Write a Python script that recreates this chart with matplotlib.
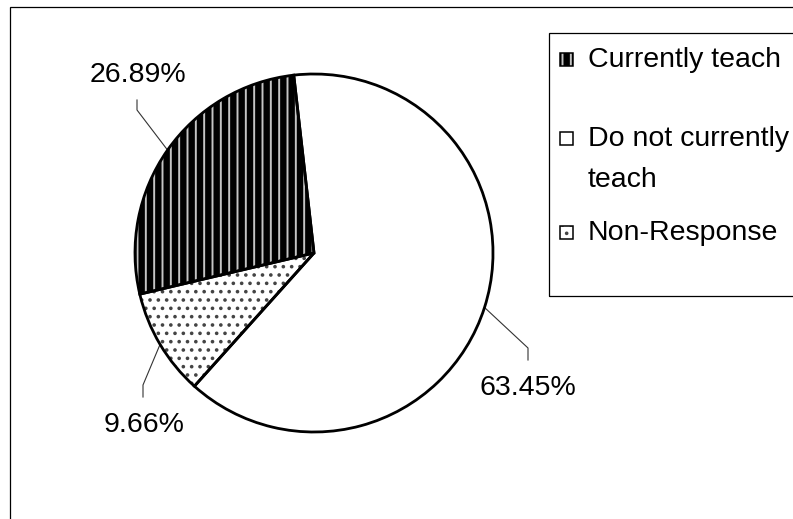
import numpy as np
import matplotlib
matplotlib.use("Agg")
import matplotlib.pyplot as plt
from matplotlib.patches import Wedge, Rectangle

plt.rcParams["font.family"] = ["Liberation Sans", "DejaVu Sans"]
plt.rcParams["hatch.linewidth"] = 1.4

# survey split
labels = ["Currently teach", "Do not currently\nteach", "Non-Response"]
shares = [26.89, 63.45, 9.66]

# fill style per slice: face colour, hatch, hatch colour
fills = ["black", "white", "white"]
hatches = ["||", None, ".."]
hatch_colors = ["#c4c4c4", None, "#444444"]

W, H = 793, 519
FS = 20.5


def py(y):
    # pixel rows are counted from the top
    return H - y


fig = plt.figure(figsize=(W / 100, H / 100), dpi=100)
ax = fig.add_axes([0, 0, 1, 1])

cx, cy, r = 314, py(253), 179
wedges, _ = ax.pie(shares, colors=["none"] * 3, startangle=193.3,
                   counterclock=False, center=(cx, cy), radius=r,
                   wedgeprops=dict(edgecolor="black", linewidth=2.0,
                                   joinstyle="miter", zorder=3))

# fills and hatching go underneath the black outlines
for w, fc, h, hc in zip(wedges, fills, hatches, hatch_colors):
    base = Wedge((cx, cy), r, w.theta1, w.theta2, facecolor=fc,
                 edgecolor=hc if hc else fc, linewidth=0, hatch=h, zorder=1)
    ax.add_patch(base)

# percentage labels with leader lines
elbows = [(137, 110), (528, 348), (143, 385)]
tips = [(137, 100), (528, 360), (143, 397)]
text_pos = [(138, 82), (528, 395), (144, 432)]
for w, v, el, tp, tx in zip(wedges, shares, elbows, tips, text_pos):
    mid = np.deg2rad((w.theta1 + w.theta2) / 2)
    sx, sy = cx + r * np.cos(mid), cy + r * np.sin(mid)
    ax.plot([sx, el[0], tp[0]], [sy, py(el[1]), py(tp[1])],
            color="#333333", lw=0.8, zorder=2)
    ax.text(tx[0], py(tx[1]), f"{v:.2f}%", fontsize=FS, ha="center",
            va="baseline", color="black")

# legend box
ax.add_patch(Rectangle((549, py(296)), 400, 263, facecolor="none",
                       edgecolor="black", lw=0.9, zorder=2))
baselines = [67, 146, 240]
for lab, fc, h, hc, bl in zip(labels, fills, hatches, hatch_colors, baselines):
    mx, my = 560, py(bl - 1)
    ax.add_patch(Rectangle((mx, my), 13, 13, facecolor=fc,
                           edgecolor=hc if hc else fc, lw=0, hatch=h, zorder=2))
    ax.add_patch(Rectangle((mx, my), 13, 13, facecolor="none",
                           edgecolor="black", lw=1.1, zorder=3))
    for i, line in enumerate(lab.split("\n")):
        ax.text(588, py(bl + 41 * i), line, fontsize=FS, ha="left",
                va="baseline", color="black")

# outer chart frame
ax.add_patch(Rectangle((10, py(900)), 1000, 893, facecolor="none",
                       edgecolor="black", lw=0.9, zorder=2))

ax.set_xlim(0, W)
ax.set_ylim(0, H)
ax.set_aspect("auto")
ax.axis("off")

fig.savefig("out.png", dpi=100, facecolor="white")
